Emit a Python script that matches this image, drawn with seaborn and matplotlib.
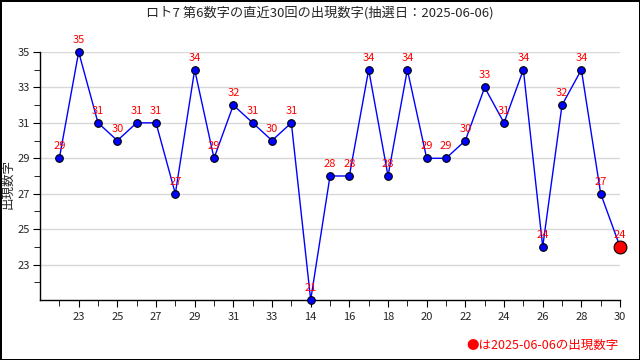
import matplotlib.pyplot as plt
import pandas as pd
import seaborn as sns

sns.set_style("white")
plt.rcParams['font.family'] = ['Noto Sans CJK JP', 'DejaVu Sans']

# latest 30 draws, 6th number
draw_no = list(range(1, 31))
values = [29, 35, 31, 30, 31, 31, 27, 34, 29, 32,
          31, 30, 31, 21, 28, 28, 34, 28, 34, 29,
          29, 30, 33, 31, 34, 24, 32, 34, 27, 24]
tick_labels = ['23', '25', '27', '29', '31', '33', '14', '16',
               '18', '20', '22', '24', '26', '28', '30']
title = 'ロト7 第6数字の直近30回の出現数字(抽選日：2025-06-06)'
note = '●は2025-06-06の出現数字'

df = pd.DataFrame({'draw': draw_no, 'value': values})

fig = plt.figure(figsize=(6.4, 3.6), dpi=100)
fig.patch.set_edgecolor('black')
fig.patch.set_linewidth(2)
ax = fig.add_axes([0.0625, 0.1667, 0.9063, 0.6889])

ax.grid(axis='y', color='#d8d8d8', linewidth=1)
ax.set_axisbelow(True)

sns.lineplot(data=df, x='draw', y='value', ax=ax, color='blue', linewidth=1,
             marker='o', markersize=5.5, markerfacecolor='blue',
             markeredgecolor='black', markeredgewidth=0.8, zorder=3,
             clip_on=False)
last = df.iloc[-1:]
sns.scatterplot(data=last, x='draw', y='value', ax=ax, s=85, color='red',
                edgecolor='black', linewidth=0.8, zorder=4, clip_on=False)
for x, y in zip(draw_no, values):
    ax.annotate(str(y), (x, y), xytext=(0, 5), textcoords='offset points',
                ha='center', va='bottom', color='red', fontsize=8,
                annotation_clip=False)

ax.set_xlim(0, 30)
ax.set_ylim(21, 35)
ax.set_xticks(draw_no[1::2])
ax.set_xticklabels(tick_labels)
ax.set_xticks(draw_no[0::2], minor=True)
ax.set_yticks(range(23, 36, 2))
ax.set_yticks(range(22, 35, 2), minor=True)
ax.tick_params(axis='both', which='both', direction='out', labelsize=8,
               left=True, bottom=True, color='black')
ax.tick_params(which='major', length=5)
ax.tick_params(which='minor', length=4)
ax.tick_params(axis='y', pad=2)

for side in ['top', 'right']:
    ax.spines[side].set_visible(False)
for side in ['left', 'bottom']:
    ax.spines[side].set_color('black')
    ax.spines[side].set_linewidth(1)

ax.set_xlabel('')
ax.set_ylabel('')
fig.text(0.013, 0.49, '出現数字', rotation=90, ha='center', va='center',
         fontsize=9)
fig.text(0.5, 0.965, title, ha='center', va='center', fontsize=9.5)
fig.text(0.966, 0.04, note, ha='right', va='center', color='red', fontsize=9)

fig.savefig('out.png')
